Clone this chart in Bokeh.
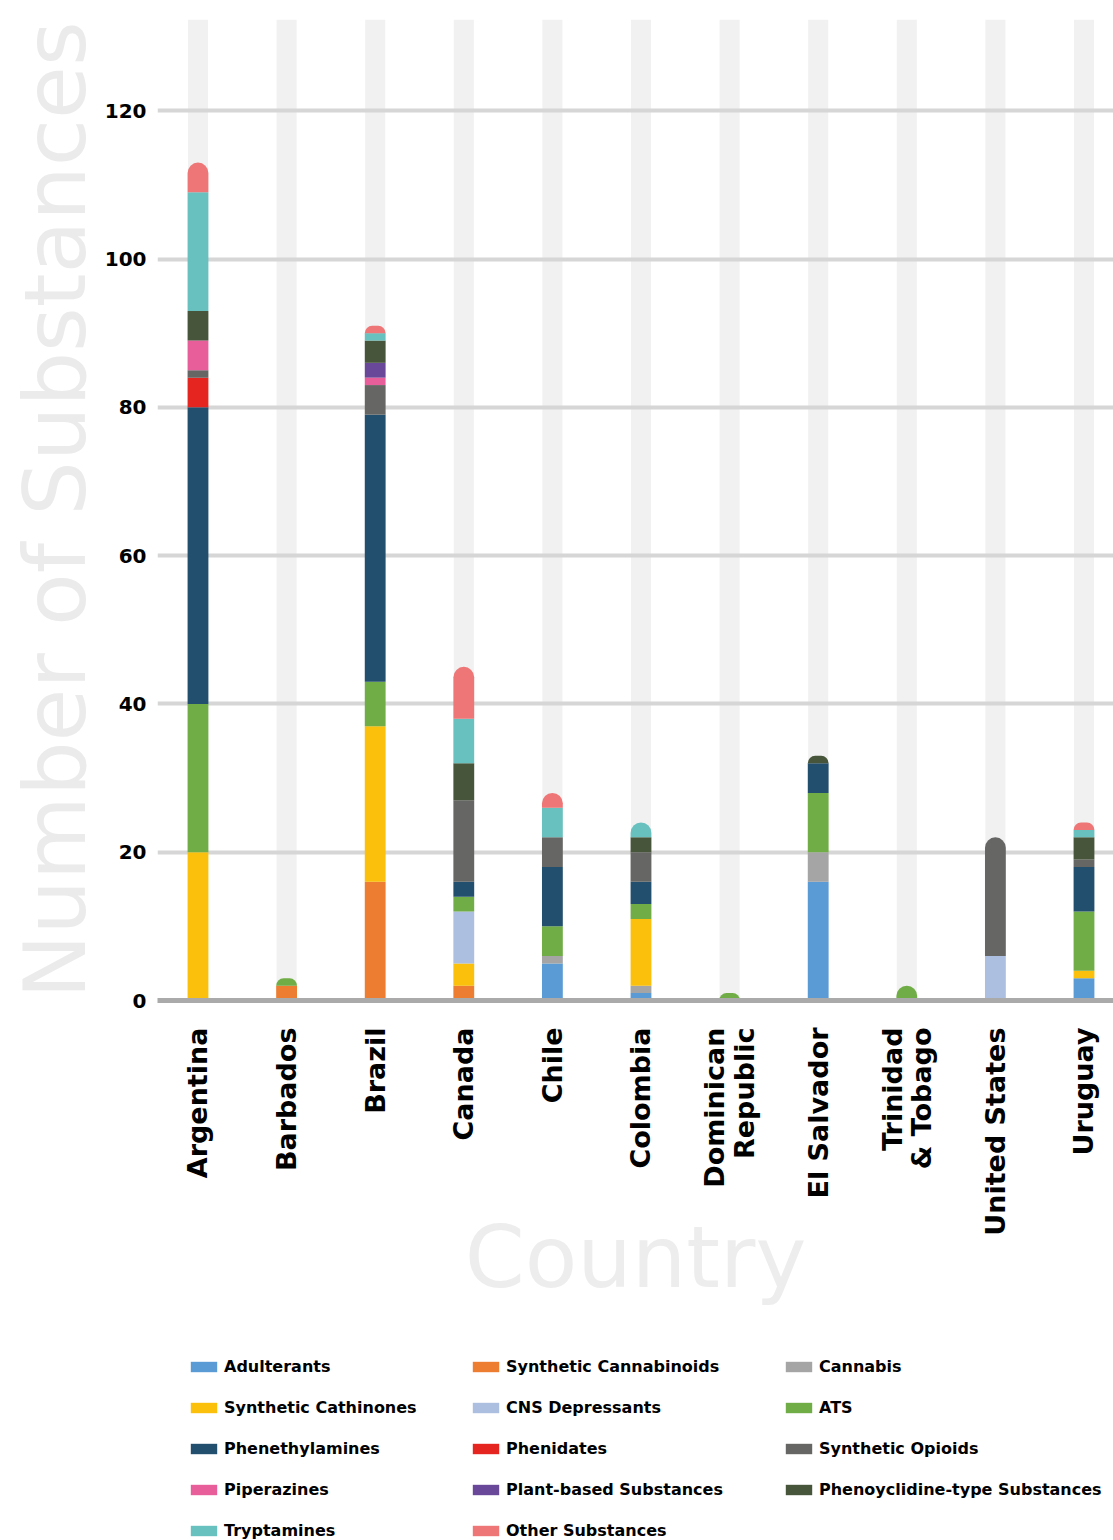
import math
from bokeh.plotting import figure
from bokeh.layouts import column
from bokeh.models import ColumnDataSource, FixedTicker, Legend, LegendItem, Range1d
from bokeh.embed import file_html
from bokeh.resources import INLINE

# ---------------- data ----------------
countries = ["Argentina", "Barbados", "Brazil", "Canada", "Chile", "Colombia",
             "Dominican\nRepublic", "El Salvador", "Trinidad\n& Tobago",
             "United States", "Uruguay"]

adulterants            = [0, 0, 0, 0, 5, 1, 0, 16, 0, 0, 3]
synthetic_cannabinoids = [0, 2, 16, 2, 0, 0, 0, 0, 0, 0, 0]
cannabis               = [0, 0, 0, 0, 1, 1, 0, 4, 0, 0, 0]
synthetic_cathinones   = [20, 0, 21, 3, 0, 9, 0, 0, 0, 0, 1]
cns_depressants        = [0, 0, 0, 7, 0, 0, 0, 0, 0, 6, 0]
ats                    = [20, 1, 6, 2, 4, 2, 1, 8, 2, 0, 8]
phenethylamines        = [40, 0, 36, 2, 8, 3, 0, 4, 0, 0, 6]
phenidates             = [4, 0, 0, 0, 0, 0, 0, 0, 0, 0, 0]
synthetic_opioids      = [1, 0, 4, 11, 4, 4, 0, 0, 0, 16, 1]
piperazines            = [4, 0, 1, 0, 0, 0, 0, 0, 0, 0, 0]
plant_based            = [0, 0, 2, 0, 0, 0, 0, 0, 0, 0, 0]
phencyclidine_type     = [4, 0, 3, 5, 0, 2, 0, 1, 0, 0, 3]
tryptamines            = [16, 0, 1, 6, 4, 2, 0, 0, 0, 0, 1]
other_substances       = [4, 0, 1, 7, 2, 0, 0, 0, 0, 0, 1]

series_names = ["Adulterants", "Synthetic Cannabinoids", "Cannabis",
                "Synthetic Cathinones", "CNS Depressants", "ATS",
                "Phenethylamines", "Phenidates", "Synthetic Opioids",
                "Piperazines", "Plant-based Substances",
                "Phenoyclidine-type Substances", "Tryptamines",
                "Other Substances"]
series_values = [adulterants, synthetic_cannabinoids, cannabis,
                 synthetic_cathinones, cns_depressants, ats, phenethylamines,
                 phenidates, synthetic_opioids, piperazines, plant_based,
                 phencyclidine_type, tryptamines, other_substances]
colors = ["#5b9bd5", "#ed7d31", "#a5a5a5", "#fbc00c", "#adbfe1", "#70ad47",
          "#234f6e", "#e42520", "#666664", "#e85e9b", "#6a4899", "#47553a",
          "#68c1be", "#ee7676"]

y_ticks = [0, 20, 40, 60, 80, 100, 120]

# ---------------- styling constants ----------------
FONT = "DejaVu Sans"
Y_MAX = 132.3
BAR_W = 0.235
BAND_W = 0.226
FRAME_LEFT = 157

n = len(countries)
xs_all = list(range(n))

p = figure(width=1113, height=1340,
           x_range=(-0.457, 10.333), y_range=(0, Y_MAX),
           output_backend="svg", toolbar_location=None,
           min_border_left=FRAME_LEFT, min_border_right=0,
           min_border_top=19, min_border_bottom=340)
p.outline_line_color = None
p.background_fill_color = "white"

# background bands
p.vbar(x=xs_all, bottom=0, top=Y_MAX, width=BAND_W, fill_color="#f1f1f1",
       line_color=None, level="image")

# find top series for each country
top_idx = []
for ci in range(n):
    t = -1
    for si, vals in enumerate(series_values):
        if vals[ci] > 0:
            t = si
    top_idx.append(t)

acc = [0] * n
cap = dict(x=[], bottom=[], top=[], color=[])
for si, vals in enumerate(series_values):
    seg = dict(x=[], bottom=[], top=[])
    for ci, v in enumerate(vals):
        if v > 0:
            b = acc[ci]
            t = b + v
            if si == top_idx[ci]:
                cap["x"].append(ci); cap["bottom"].append(b)
                cap["top"].append(t); cap["color"].append(colors[si])
            else:
                seg["x"].append(ci); seg["bottom"].append(b); seg["top"].append(t)
            acc[ci] = t
    p.vbar(x="x", bottom="bottom", top="top", width=BAR_W,
           fill_color=colors[si], line_color=None,
           source=ColumnDataSource(seg))

p.vbar(x="x", bottom="bottom", top="top", width=BAR_W, fill_color="color",
       line_color=None, border_radius=(11, 11, 0, 0),
       source=ColumnDataSource(cap))

# grid
p.xgrid.grid_line_color = None
p.ygrid.grid_line_color = "#d6d6d6"
p.ygrid.grid_line_width = 4

# x axis
p.xaxis.ticker = FixedTicker(ticks=xs_all)
p.xaxis.major_label_overrides = {i: c for i, c in enumerate(countries)}
p.xaxis.major_label_orientation = math.pi / 2
p.xaxis.major_label_text_font = FONT
p.xaxis.major_label_text_font_style = "bold"
p.xaxis.major_label_text_font_size = "27px"
p.xaxis.major_label_text_line_height = 0.95
p.xaxis.major_label_text_color = "black"
p.xaxis.major_tick_out = 0
p.xaxis.minor_tick_out = 0
p.xaxis.major_label_standoff = 27
p.xaxis.major_tick_line_color = None
p.xaxis.minor_tick_line_color = None
p.xaxis.axis_line_color = "#aaaaaa"
p.xaxis.axis_line_width = 5
p.xaxis.axis_label = "Country"
p.xaxis.axis_label_text_font = FONT
p.xaxis.axis_label_text_font_style = "normal"
p.xaxis.axis_label_text_font_size = "86px"
p.xaxis.axis_label_text_color = "#ededed"
p.xaxis.axis_label_standoff = -32

# y axis
p.yaxis.ticker = FixedTicker(ticks=y_ticks)
p.yaxis.major_label_text_font = FONT
p.yaxis.major_label_text_font_style = "bold"
p.yaxis.major_label_text_font_size = "20px"
p.yaxis.major_label_text_color = "black"
p.yaxis.major_tick_out = 0
p.yaxis.minor_tick_out = 0
p.yaxis.major_label_standoff = 11
p.yaxis.major_tick_line_color = None
p.yaxis.minor_tick_line_color = None
p.yaxis.axis_line_color = None
p.yaxis.axis_label = "Number of Substances"
p.yaxis.axis_label_text_font = FONT
p.yaxis.axis_label_text_font_style = "normal"
p.yaxis.axis_label_text_font_size = "86px"
p.yaxis.axis_label_text_color = "#ebebeb"
p.yaxis.axis_label_standoff = -3

# ---------------- legend panel ----------------
LG_H = 200
lg = figure(width=1113, height=LG_H, x_range=Range1d(0, 1), y_range=Range1d(0, 1),
            output_backend="svg", toolbar_location=None,
            min_border_left=0, min_border_right=0, min_border_top=0,
            min_border_bottom=0)
lg.outline_line_color = None
lg.axis.visible = False
lg.grid.grid_line_color = None

# zero-height placeholder bars, so that each legend swatch is drawn
swatches = [lg.vbar(x=[0.5], bottom=[0], top=[0], width=0.1, fill_color=c,
                    line_color=None) for c in colors]
items = [LegendItem(label=name, renderers=[r]) for name, r in zip(series_names, swatches)]

columns = [[0, 3, 6, 9, 12], [1, 4, 7, 10, 13], [2, 5, 8, 11]]
col_x = [190, 472, 785]
ROW_H = 20
GAP = 21
for cols, lx in zip(columns, col_x):
    nrow = len(cols)
    h = nrow * ROW_H + (nrow - 1) * GAP
    vy = LG_H - 16 - h
    leg = Legend(items=[items[i] for i in cols],
                 location=(lx - FRAME_LEFT - 3, vy),
                 orientation="vertical", padding=0, margin=0, spacing=GAP,
                 label_height=ROW_H, glyph_height=13, glyph_width=33,
                 label_standoff=4, border_line_color=None,
                 background_fill_alpha=0,
                 label_text_font=FONT, label_text_font_style="bold",
                 label_text_font_size="16px", label_text_color="black")
    lg.add_layout(leg, "center")

layout = column(p, lg)
open("out.html", "w").write(file_html(layout, INLINE))
